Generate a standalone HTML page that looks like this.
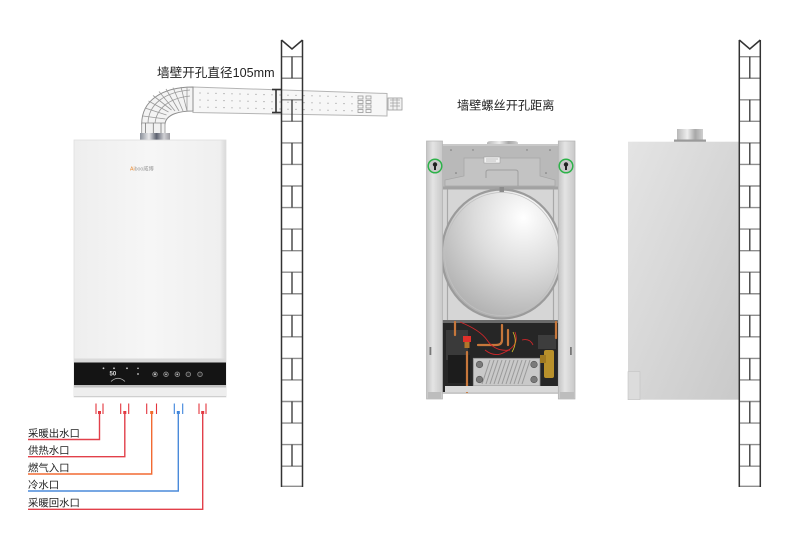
<!DOCTYPE html>
<html>
<head>
<meta charset="utf-8">
<style>
  html,body{margin:0;padding:0;background:#fff;}
  body{width:790px;height:541px;overflow:hidden;}
  svg{display:block;}
  text{font-family:"Liberation Sans","Noto Sans CJK SC",sans-serif;}
</style>
</head>
<body>
<svg width="790" height="541" viewBox="0 0 790 541" xmlns="http://www.w3.org/2000/svg">
  <defs>
    <linearGradient id="faceL" x1="0" y1="0" x2="1" y2="0">
      <stop offset="0" stop-color="#eeeeee"/>
      <stop offset="0.5" stop-color="#f6f6f6"/>
      <stop offset="0.96" stop-color="#efefef"/>
      <stop offset="1" stop-color="#d8d8d8"/>
    </linearGradient>
    <linearGradient id="faceR" x1="0" y1="0" x2="1" y2="1">
      <stop offset="0" stop-color="#e4e4e4"/>
      <stop offset="1" stop-color="#c9c9c9"/>
    </linearGradient>
    <linearGradient id="metal" x1="0" y1="0" x2="1" y2="0">
      <stop offset="0" stop-color="#8a8f99"/>
      <stop offset="0.3" stop-color="#e8e8ea"/>
      <stop offset="0.55" stop-color="#5d6270"/>
      <stop offset="0.8" stop-color="#d0d0d4"/>
      <stop offset="1" stop-color="#9a9aa0"/>
    </linearGradient>
    <linearGradient id="metal2" x1="0" y1="0" x2="1" y2="0">
      <stop offset="0" stop-color="#b8b8b8"/>
      <stop offset="0.4" stop-color="#eeeeee"/>
      <stop offset="0.7" stop-color="#a8a8a8"/>
      <stop offset="1" stop-color="#cfcfcf"/>
    </linearGradient>
    <radialGradient id="tank" cx="0.68" cy="0.22" r="0.9">
      <stop offset="0" stop-color="#ffffff"/>
      <stop offset="0.45" stop-color="#dcdcdc"/>
      <stop offset="1" stop-color="#a9a9a9"/>
    </radialGradient>
    <linearGradient id="rail" x1="0" y1="0" x2="1" y2="0">
      <stop offset="0" stop-color="#c4c4c4"/>
      <stop offset="0.4" stop-color="#e4e4e4"/>
      <stop offset="1" stop-color="#c8c8c8"/>
    </linearGradient>
    <g id="wall">
      <rect x="281.5" y="40" width="21" height="446.5" fill="#fff"/>
    </g>
    <g id="walllines" fill="none">
      <g stroke="#8e8e8e" stroke-width="1.4">
        <line x1="281.5" y1="56.7" x2="302.5" y2="56.7"/>
        <line x1="281.5" y1="78.25" x2="302.5" y2="78.25"/>
        <line x1="281.5" y1="99.8" x2="302.5" y2="99.8"/>
        <line x1="281.5" y1="121.35" x2="302.5" y2="121.35"/>
        <line x1="281.5" y1="142.9" x2="302.5" y2="142.9"/>
        <line x1="281.5" y1="164.45" x2="302.5" y2="164.45"/>
        <line x1="281.5" y1="186" x2="302.5" y2="186"/>
        <line x1="281.5" y1="207.55" x2="302.5" y2="207.55"/>
        <line x1="281.5" y1="229.1" x2="302.5" y2="229.1"/>
        <line x1="281.5" y1="250.65" x2="302.5" y2="250.65"/>
        <line x1="281.5" y1="272.2" x2="302.5" y2="272.2"/>
        <line x1="281.5" y1="293.75" x2="302.5" y2="293.75"/>
        <line x1="281.5" y1="315.3" x2="302.5" y2="315.3"/>
        <line x1="281.5" y1="336.85" x2="302.5" y2="336.85"/>
        <line x1="281.5" y1="358.4" x2="302.5" y2="358.4"/>
        <line x1="281.5" y1="379.95" x2="302.5" y2="379.95"/>
        <line x1="281.5" y1="401.5" x2="302.5" y2="401.5"/>
        <line x1="281.5" y1="423.05" x2="302.5" y2="423.05"/>
        <line x1="281.5" y1="444.6" x2="302.5" y2="444.6"/>
        <line x1="281.5" y1="466.15" x2="302.5" y2="466.15"/>
        <line x1="281.5" y1="486.3" x2="302.5" y2="486.3"/>
      </g>
      <g stroke="#333" stroke-width="1.3">
        <line x1="292" y1="56.7" x2="292" y2="78.25"/>
        <line x1="292" y1="99.8" x2="292" y2="121.35"/>
        <line x1="292" y1="142.9" x2="292" y2="164.45"/>
        <line x1="292" y1="186" x2="292" y2="207.55"/>
        <line x1="292" y1="229.1" x2="292" y2="250.65"/>
        <line x1="292" y1="272.2" x2="292" y2="293.75"/>
        <line x1="292" y1="315.3" x2="292" y2="336.85"/>
        <line x1="292" y1="358.4" x2="292" y2="379.95"/>
        <line x1="292" y1="401.5" x2="292" y2="423.05"/>
        <line x1="292" y1="444.6" x2="292" y2="466.15"/>
      </g>
      <g stroke="#333" stroke-width="1.5">
        <line x1="281.5" y1="40" x2="281.5" y2="487"/>
        <line x1="302.5" y1="40" x2="302.5" y2="487"/>
        <path d="M281.5,40 L292,49 L302.5,40"/>
      </g>
    </g>
  </defs>

  <!-- LEFT WALL (fill) -->
  <use href="#wall"/>

  <!-- FLUE PIPE -->
  <polygon points="193,87 387,93.5 387,116 193,112.5" fill="#f7f7f7" stroke="#b5b5b5" stroke-width="1"/>
  <g fill="#9a9a9a">
    <g>
      <circle cx="200" cy="93" r="0.6"/><circle cx="208" cy="93.2" r="0.6"/><circle cx="216" cy="93.4" r="0.6"/><circle cx="224" cy="93.6" r="0.6"/><circle cx="232" cy="93.8" r="0.6"/><circle cx="240" cy="94" r="0.6"/><circle cx="248" cy="94.2" r="0.6"/><circle cx="256" cy="94.4" r="0.6"/><circle cx="264" cy="94.6" r="0.6"/><circle cx="272" cy="94.8" r="0.6"/><circle cx="280" cy="95" r="0.6"/><circle cx="288" cy="95.2" r="0.6"/><circle cx="296" cy="95.4" r="0.6"/><circle cx="304" cy="95.6" r="0.6"/><circle cx="312" cy="95.8" r="0.6"/><circle cx="320" cy="96" r="0.6"/><circle cx="328" cy="96.2" r="0.6"/><circle cx="336" cy="96.4" r="0.6"/><circle cx="344" cy="96.6" r="0.6"/><circle cx="352" cy="96.8" r="0.6"/>
    </g>
    <g>
      <circle cx="200" cy="100" r="0.6"/><circle cx="208" cy="100.2" r="0.6"/><circle cx="216" cy="100.4" r="0.6"/><circle cx="224" cy="100.6" r="0.6"/><circle cx="232" cy="100.8" r="0.6"/><circle cx="240" cy="101" r="0.6"/><circle cx="248" cy="101.2" r="0.6"/><circle cx="256" cy="101.4" r="0.6"/><circle cx="264" cy="101.6" r="0.6"/><circle cx="272" cy="101.8" r="0.6"/><circle cx="280" cy="102" r="0.6"/><circle cx="288" cy="102.2" r="0.6"/><circle cx="296" cy="102.4" r="0.6"/><circle cx="304" cy="102.6" r="0.6"/><circle cx="312" cy="102.8" r="0.6"/><circle cx="320" cy="103" r="0.6"/><circle cx="328" cy="103.2" r="0.6"/><circle cx="336" cy="103.4" r="0.6"/><circle cx="344" cy="103.6" r="0.6"/><circle cx="352" cy="103.8" r="0.6"/>
    </g>
    <g>
      <circle cx="200" cy="107" r="0.6"/><circle cx="208" cy="107.2" r="0.6"/><circle cx="216" cy="107.4" r="0.6"/><circle cx="224" cy="107.6" r="0.6"/><circle cx="232" cy="107.8" r="0.6"/><circle cx="240" cy="108" r="0.6"/><circle cx="248" cy="108.2" r="0.6"/><circle cx="256" cy="108.4" r="0.6"/><circle cx="264" cy="108.6" r="0.6"/><circle cx="272" cy="108.8" r="0.6"/><circle cx="280" cy="109" r="0.6"/><circle cx="288" cy="109.2" r="0.6"/><circle cx="296" cy="109.4" r="0.6"/><circle cx="304" cy="109.6" r="0.6"/><circle cx="312" cy="109.8" r="0.6"/><circle cx="320" cy="110" r="0.6"/><circle cx="328" cy="110.2" r="0.6"/><circle cx="336" cy="110.4" r="0.6"/><circle cx="344" cy="110.6" r="0.6"/><circle cx="352" cy="110.8" r="0.6"/>
    </g>
  </g>
  <g fill="none" stroke="#9a9a9a" stroke-width="0.8">
    <rect x="358" y="96" width="5" height="3"/><rect x="358" y="100.5" width="5" height="3"/><rect x="358" y="105" width="5" height="3"/><rect x="358" y="109.5" width="5" height="3"/>
    <rect x="366" y="96" width="5" height="3"/><rect x="366" y="100.5" width="5" height="3"/><rect x="366" y="105" width="5" height="3"/><rect x="366" y="109.5" width="5" height="3"/>
  </g>
  <rect x="388" y="98" width="14" height="12" fill="#f2f2f2" stroke="#9a9a9a" stroke-width="0.8"/>
  <g stroke="#a0a0a0" stroke-width="0.7">
    <line x1="390" y1="100" x2="400" y2="100"/><line x1="390" y1="103" x2="400" y2="103"/><line x1="390" y1="106" x2="400" y2="106"/>
    <line x1="393" y1="98" x2="393" y2="110"/><line x1="397" y1="98" x2="397" y2="110"/>
  </g>

  <!-- elbow -->
  <path d="M141.7,124 C141.7,100 163,87 193,87 L193,111 C180,111 166,114 165,124 Z" fill="#f3f3f3" stroke="#8f8f8f" stroke-width="1"/>
  <g stroke="#9a9a9a" stroke-width="0.8" fill="none">
    <line x1="143" y1="116" x2="165.5" y2="119"/>
    <line x1="145" y1="108" x2="166.5" y2="115"/>
    <line x1="148.5" y1="101" x2="168.5" y2="112"/>
    <line x1="153" y1="95.5" x2="171.5" y2="110"/>
    <line x1="159" y1="91.5" x2="175" y2="111"/>
    <line x1="166" y1="89" x2="179" y2="111"/>
    <line x1="173" y1="87.6" x2="183" y2="111"/>
    <line x1="181" y1="87" x2="187" y2="111"/>
    <line x1="187" y1="87" x2="187" y2="111"/>
    <path d="M148,124 C148,104 165,92 190,90"/>
    <path d="M155,124 C156,108 170,98 190,96"/>
  </g>
  <rect x="141.7" y="123" width="23.3" height="12" fill="#f1f1f1" stroke="#8f8f8f" stroke-width="0.8"/>
  <g stroke="#7a7a7a" stroke-width="0.8">
    <line x1="145.5" y1="123" x2="145.5" y2="135"/>
    <line x1="153.3" y1="123" x2="153.3" y2="135"/>
    <line x1="161" y1="123" x2="161" y2="135"/>
  </g>
  <rect x="140" y="133" width="30" height="7.5" fill="url(#metal)"/>

  <!-- dimension marker -->
  <g stroke="#333" stroke-width="1.6">
    <line x1="276" y1="89.5" x2="276" y2="112.5"/>
    <line x1="272" y1="89.5" x2="281" y2="89.5"/>
    <line x1="272" y1="112.5" x2="281" y2="112.5"/>
  </g>

  <!-- LEFT WALL lines -->
  <use href="#walllines"/>

  <!-- LEFT BOILER -->
  <rect x="74" y="140" width="152" height="257" fill="url(#faceL)"/>
  <rect x="74" y="140" width="152" height="257" fill="none" stroke="#dedede" stroke-width="0.8"/>
  <rect x="74" y="358.5" width="152" height="4" fill="#dadada"/>
  <rect x="74" y="362.5" width="152" height="22.5" fill="#141414"/>
  <rect x="74" y="385" width="152" height="2.5" fill="#c2c2c2"/>
  <rect x="74" y="387.5" width="152" height="9.2" fill="#eeeeee"/>
  <line x1="74" y1="396.5" x2="226" y2="396.5" stroke="#cfcfcf" stroke-width="1"/>
  <text x="130" y="170.5" font-size="5.2" fill="#999"><tspan fill="#e8862a">Ai</tspan>boo威博</text>
  <g fill="#d0d0d0">
    <circle cx="103.5" cy="368.3" r="0.9"/>
    <circle cx="114" cy="368.3" r="0.9"/>
    <circle cx="127" cy="368.3" r="0.9"/>
    <circle cx="138" cy="368.3" r="0.8"/>
    <circle cx="138" cy="374" r="0.9"/>
  </g>
  <text x="109.5" y="375.5" font-size="6" fill="#e0e0e0" font-weight="bold">50</text>
  <path d="M111,381.5 Q118,375 125,381.5" fill="none" stroke="#bbb" stroke-width="0.7"/>
  <g fill="#2c2c2c" stroke="#9a9a9a" stroke-width="0.7">
    <circle cx="155" cy="374.3" r="2.3"/>
    <circle cx="166" cy="374.3" r="2.3"/>
    <circle cx="177.3" cy="374.3" r="2.3"/>
    <circle cx="188.3" cy="374.3" r="2.3"/>
    <circle cx="200" cy="374.3" r="2.3"/>
  </g>
  <g fill="#cfcfcf">
    <circle cx="155" cy="374.3" r="1"/><circle cx="166" cy="374.3" r="0.8"/><circle cx="177.3" cy="374.3" r="0.8"/>
  </g>

  <!-- connector ticks -->
  <g stroke-width="1.1">
    <line x1="96" y1="403.5" x2="96" y2="414" stroke="#e3343c"/>
    <line x1="103" y1="403.5" x2="103" y2="414" stroke="#e3343c"/>
    <line x1="120.7" y1="403.5" x2="120.7" y2="414" stroke="#e3343c"/>
    <line x1="128.7" y1="403.5" x2="128.7" y2="414" stroke="#e3343c"/>
    <line x1="146.7" y1="403.5" x2="146.7" y2="414" stroke="#e3343c"/>
    <line x1="156.5" y1="403.5" x2="156.5" y2="414" stroke="#e3343c"/>
    <line x1="174.3" y1="403.5" x2="174.3" y2="414" stroke="#3c84dc"/>
    <line x1="182.7" y1="403.5" x2="182.7" y2="414" stroke="#3c84dc"/>
    <line x1="199" y1="403.5" x2="199" y2="414" stroke="#e3343c"/>
    <line x1="206" y1="403.5" x2="206" y2="414" stroke="#e3343c"/>
  </g>
  <rect x="98" y="411" width="3" height="3" fill="#e3343c"/>
  <rect x="123.3" y="411" width="3" height="3" fill="#e3343c"/>
  <rect x="150.2" y="411" width="3" height="3" fill="#f26a2a"/>
  <rect x="176.8" y="411" width="3" height="3" fill="#3c84dc"/>
  <rect x="201.2" y="411" width="3" height="3" fill="#e3343c"/>

  <g fill="none" stroke-width="1.4">
    <polyline points="99.5,412.5 99.5,439.5 28,439.5" stroke="#e2404a"/>
    <polyline points="124.8,412.5 124.8,456.7 28,456.7" stroke="#e2404a"/>
    <polyline points="151.7,412.5 151.7,474 28,474" stroke="#f26a32"/>
    <polyline points="178.3,412.5 178.3,491 28,491" stroke="#4a8ada"/>
    <polyline points="202.7,412.5 202.7,509.3 28,509.3" stroke="#e2404a"/>
  </g>
  <g font-size="10.4" fill="#222">
    <text x="28" y="437">采暖出水口</text>
    <text x="28" y="454">供热水口</text>
    <text x="28" y="471.5">燃气入口</text>
    <text x="28" y="488.5">冷水口</text>
    <text x="28" y="506.5">采暖回水口</text>
  </g>

  <!-- top labels -->
  <text x="157" y="77" font-size="12.6" fill="#222">墙壁开孔直径105mm</text>
  <text x="457" y="109.5" font-size="12.2" fill="#222">墙壁螺丝开孔距离</text>

  <!-- MIDDLE BOILER -->
  <path d="M487,147 L487,143 Q487,141 492,141 L513,141 Q518,141 518,143 L518,147 Z" fill="url(#metal2)"/>
  <rect x="441" y="144" width="119" height="250" fill="#c9c9c9"/>
  <rect x="443" y="146" width="115" height="42" fill="#b9b9b9"/>
  <path d="M464,158 L540,158 L540,176 L555,180 L555,186 L445,186 L445,180 L464,176 Z" fill="#c3c3c3" stroke="#a5a5a5" stroke-width="0.7"/>
  <path d="M486,178 L486,172 Q486,170 489,170 L515,170 Q518,170 518,172 L518,186" fill="none" stroke="#9f9f9f" stroke-width="1"/>
  <rect x="484" y="157" width="16" height="6" fill="#f2f2f2" stroke="#999" stroke-width="0.5"/>
  <g stroke="#777" stroke-width="0.4"><line x1="486" y1="159" x2="498" y2="159"/><line x1="486" y1="161" x2="496" y2="161"/></g>
  <g fill="#777">
    <circle cx="451" cy="150" r="0.8"/><circle cx="550" cy="150" r="0.8"/><circle cx="456" cy="173" r="0.8"/><circle cx="546" cy="173" r="0.8"/><circle cx="473" cy="150" r="0.7"/><circle cx="527" cy="150" r="0.7"/>
  </g>
  <rect x="443" y="187" width="115" height="134" fill="#d6d6d6"/>
  <line x1="447.5" y1="188" x2="447.5" y2="320" stroke="#a8a8a8" stroke-width="1.2"/>
  <line x1="553.5" y1="188" x2="553.5" y2="320" stroke="#a8a8a8" stroke-width="1.2"/>
  <rect x="443" y="186.5" width="115" height="3" fill="#a2a2a2"/>
  <ellipse cx="501.7" cy="254" rx="60" ry="64.5" fill="url(#tank)" stroke="#9b9b9b" stroke-width="2.2"/>
  <ellipse cx="501.7" cy="254" rx="57" ry="61.5" fill="none" stroke="#c0c0c0" stroke-width="0.8"/>
  <rect x="499.5" y="187" width="4.5" height="5" fill="#8b8b8b"/>
  <rect x="442" y="320" width="116" height="72" fill="#262626"/>
  <rect x="442" y="320" width="116" height="3" fill="#6a6a6a"/>
  <rect x="446" y="330" width="22" height="30" fill="#3a3a3a"/>
  <rect x="448" y="355" width="22" height="28" fill="#1c1c1c"/>
  <rect x="538" y="335" width="18" height="14" fill="#3d3d3d"/>
  <rect x="473.3" y="358.3" width="66.7" height="27.7" fill="#c9c9c9" stroke="#8d8d8d" stroke-width="0.8"/>
  <g stroke="#9a9a9a" stroke-width="1">
    <line x1="482" y1="384" x2="490" y2="360"/><line x1="486" y1="384" x2="494" y2="360"/><line x1="490" y1="384" x2="498" y2="360"/><line x1="494" y1="384" x2="502" y2="360"/><line x1="498" y1="384" x2="506" y2="360"/><line x1="502" y1="384" x2="510" y2="360"/><line x1="506" y1="384" x2="514" y2="360"/><line x1="510" y1="384" x2="518" y2="360"/><line x1="514" y1="384" x2="522" y2="360"/><line x1="518" y1="384" x2="526" y2="360"/><line x1="522" y1="384" x2="530" y2="360"/>
  </g>
  <g fill="#7a7a7a" stroke="#555" stroke-width="0.6">
    <circle cx="479.5" cy="364.5" r="3.3"/><circle cx="479.5" cy="379.5" r="3.3"/>
    <circle cx="534" cy="364.5" r="3.3"/><circle cx="534" cy="379.5" r="3.3"/>
  </g>
  <g fill="none" stroke="#c7773b" stroke-width="2.2" stroke-linecap="round">
    <path d="M467,352 L467,392"/>
    <path d="M502,325 L502,340 Q502,345 496,345 L478,345"/>
    <path d="M508,330 L508,345"/>
    <path d="M455,322 L455,335"/>
    <path d="M556,322 L556,338"/>
  </g>
  <g fill="none" stroke="#d0262a" stroke-width="0.9">
    <path d="M460,322 Q480,330 487,340 Q495,352 510,350"/>
    <path d="M515,332 Q520,345 505,352 Q495,358 485,350"/>
    <path d="M522,340 Q530,338 533,345"/>
  </g>
  <path d="M513,332 Q518,342 512,352" fill="none" stroke="#d8c22a" stroke-width="0.8"/>
  <rect x="463" y="336" width="8" height="6" fill="#e0302a"/>
  <rect x="464.5" y="342" width="5" height="6" fill="#b0762a"/>
  <rect x="544" y="350" width="10" height="28" rx="2" fill="#b9912b"/>
  <rect x="540" y="355" width="6" height="8" fill="#a07a22"/>
  <rect x="445" y="386" width="115" height="6" fill="#d9d9d9"/>
  <rect x="426.5" y="141" width="16" height="258" fill="url(#rail)" stroke="#b3b3b3" stroke-width="0.7"/>
  <rect x="558.3" y="141" width="16.7" height="258" fill="url(#rail)" stroke="#b3b3b3" stroke-width="0.7"/>
  <rect x="428" y="392" width="13" height="7" fill="#bdbdbd"/>
  <rect x="560" y="392" width="14" height="7" fill="#bdbdbd"/>
  <rect x="429.5" y="347" width="1.8" height="8" fill="#777"/>
  <rect x="570" y="347" width="1.8" height="8" fill="#777"/>
  <g>
    <circle cx="435" cy="166" r="6.8" fill="#c9c9c9" stroke="#2eb24a" stroke-width="1.5"/>
    <circle cx="435" cy="164.5" r="2.2" fill="#222"/>
    <rect x="434" y="165" width="2" height="5" fill="#222"/>
    <circle cx="566" cy="166" r="6.8" fill="#c9c9c9" stroke="#2eb24a" stroke-width="1.5"/>
    <circle cx="566" cy="164.5" r="2.2" fill="#222"/>
    <rect x="565" y="165" width="2" height="5" fill="#222"/>
  </g>

  <!-- RIGHT BOILER -->
  <rect x="677" y="129" width="26" height="13" fill="url(#metal2)"/>
  <rect x="674" y="139.5" width="32" height="2.5" fill="#9a9a9a"/>
  <rect x="628" y="141.7" width="111" height="258" fill="url(#faceR)"/>
  <rect x="628" y="371.7" width="12" height="28" fill="#dcdcdc" stroke="#c4c4c4" stroke-width="0.6"/>

  <!-- RIGHT WALL -->
  <g transform="translate(457.8,0)">
    <use href="#wall"/>
    <use href="#walllines"/>
  </g>
</svg>
</body>
</html>
